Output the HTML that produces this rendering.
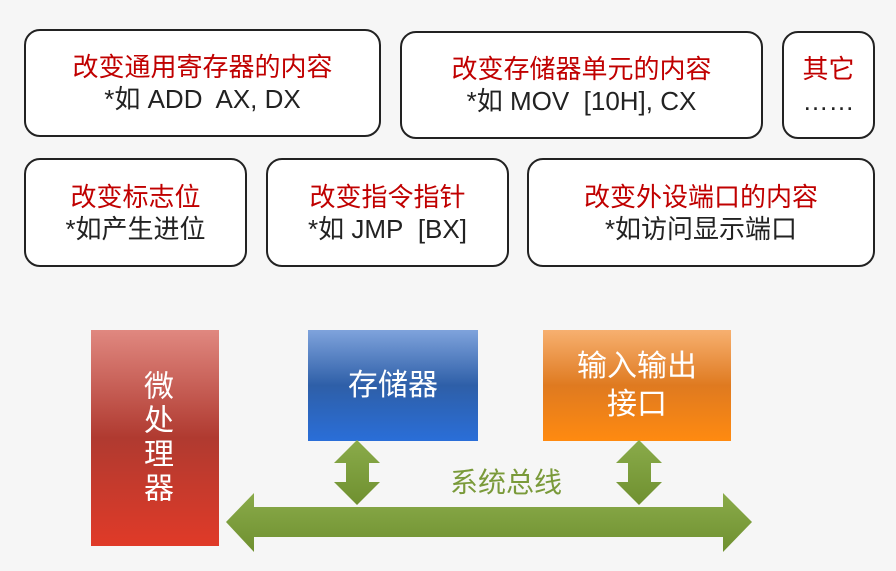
<!DOCTYPE html>
<html><head><meta charset="utf-8"><style>
body{margin:0;width:896px;height:571px;background:#f6f6f6;position:relative;overflow:hidden;font-family:"Liberation Sans","Noto Sans CJK SC",sans-serif}
.b{position:absolute;box-sizing:border-box;border:2px solid #222;border-radius:16px;background:#fff;text-align:center;display:flex;flex-direction:column;justify-content:center;font-size:26px;line-height:32px;color:#222}
.b .r{color:#c00000}
.c{position:absolute;color:#fff;font-size:30px;line-height:38px;text-align:center;display:flex;align-items:center;justify-content:center}
</style></head><body>
<div class="b" style="left:24px;top:29px;width:357px;height:108px"><div class="r">改变通用寄存器的内容</div><div>*如 ADD&nbsp; AX, DX</div></div>
<div class="b" style="left:400px;top:31px;width:363px;height:108px"><div class="r">改变存储器单元的内容</div><div>*如 MOV&nbsp; [10H], CX</div></div>
<div class="b" style="left:782px;top:31px;width:93px;height:108px"><div class="r">其它</div><div>……</div></div>
<div class="b" style="left:24px;top:158px;width:223px;height:109px"><div class="r">改变标志位</div><div>*如产生进位</div></div>
<div class="b" style="left:266px;top:158px;width:243px;height:109px"><div class="r">改变指令指针</div><div>*如 JMP&nbsp; [BX]</div></div>
<div class="b" style="left:527px;top:158px;width:348px;height:109px"><div class="r">改变外设端口的内容</div><div>*如访问显示端口</div></div>

<div class="c" style="left:91px;top:330px;width:128px;height:216px;background:linear-gradient(#e08880,#b03a30 50%,#e03a28);writing-mode:vertical-rl;letter-spacing:4px">微处理器</div>
<div class="c" style="left:308px;top:330px;width:170px;height:111px;background:linear-gradient(#7fa3dc,#2e5fa8 50%,#2a6ed8)">存储器</div>
<div class="c" style="left:543px;top:330px;width:188px;height:111px;background:linear-gradient(#f7b070,#df7a20 50%,#ff8a10)">输入输出<br>接口</div>

<svg style="position:absolute;left:0;top:0" width="896" height="571">
<defs><linearGradient id="g" x1="0" y1="0" x2="0" y2="1"><stop offset="0" stop-color="#8aab4a"/><stop offset="1" stop-color="#6f9030"/></linearGradient></defs>
<polygon fill="url(#g)" points="226,522 254,493 254,507 723,507 723,493 752,522 723,552 723,537 254,537 254,552"/>
<polygon fill="url(#g)" points="357,440 380,463 369,463 369,482 380,482 357,505 334,482 346,482 346,463 334,463"/>
<polygon fill="url(#g)" points="639,440 662,463 651,463 651,482 662,482 639,505 616,482 628,482 628,463 616,463"/>
<text x="506" y="492" text-anchor="middle" font-size="28" fill="#7a9a3a" font-family="Liberation Sans,Noto Sans CJK SC,sans-serif">系统总线</text>
</svg>
</body></html>
